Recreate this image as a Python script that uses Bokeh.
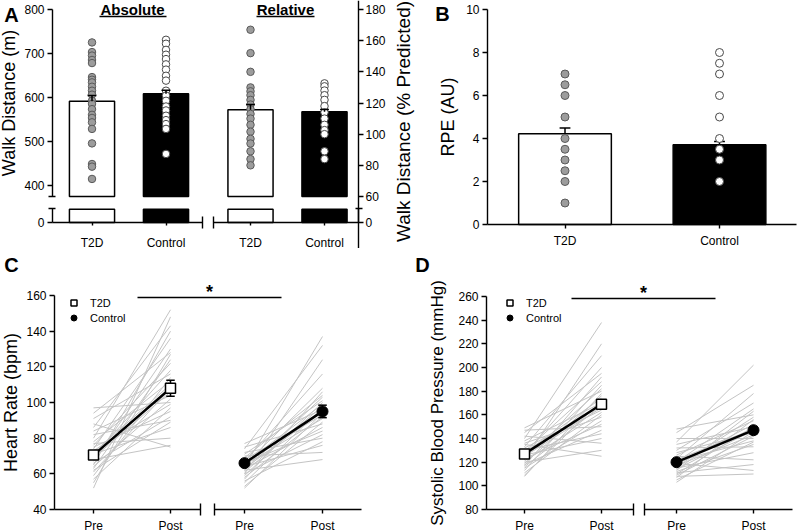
import math
from bokeh.plotting import figure
from bokeh.models import Range1d, FixedTicker, Label, Legend, LegendItem, LinearAxis
from bokeh.layouts import row, column
from bokeh.embed import file_html
from bokeh.resources import INLINE
from bokeh.core.properties import value

# ---------------- data ----------------
groups = ["T2D", "Control"]
walk_abs_mean = [591, 608]
walk_abs_sem = [13, 8]
walk_abs_t2d = [725, 703, 695, 685, 678, 646, 640, 634, 624, 615, 606, 592, 585, 573, 560, 553, 543, 528, 495, 448, 442, 414]
walk_abs_ctrl = [731, 722, 708, 697, 687, 675, 663, 649, 638, 615, 604, 592, 579, 570, 558, 548, 539, 528, 471]
walk_rel_mean = [115.6, 114.4]
walk_rel_sem = [3.4, 1.5]
walk_rel_t2d = [167, 152, 140, 130, 127.5, 125, 122, 119, 116, 113, 110, 106, 101.6, 97, 94, 89, 84, 80]
walk_rel_ctrl = [132.6, 130.7, 128, 125, 122, 118, 114, 110, 106, 102.6, 100, 89, 84]
rpe_mean = [4.22, 3.71]
rpe_sem = [0.27, 0.15]
rpe_t2d = [7, 6.5, 6, 5, 4, 3.5, 3, 2.5, 2, 1]
rpe_ctrl = [8, 7.5, 7, 6, 5, 4, 3.5, 3, 2]

times = ["Pre", "Post"]
hr_t2d_pre = [97, 94, 91, 88, 86, 84, 82, 80, 78, 77, 76, 75, 74, 73, 72, 71, 70, 69, 68, 67, 66, 65, 64, 63, 62, 61, 59, 57, 55, 52]
hr_t2d_post = [100, 128, 116, 75, 143, 104, 90, 152, 112, 80, 122, 95, 136, 99, 110, 86, 118, 106, 76, 130, 92, 140, 102, 124, 89, 108, 114, 97, 127, 148]
hr_ctrl_pre = [77, 75, 74, 72, 71, 70, 69, 68, 67, 66, 66, 65, 65, 64, 64, 63, 63, 62, 62, 61, 60, 60, 59, 58, 57, 56, 55, 53, 52]
hr_ctrl_post = [96, 88, 132, 80, 101, 72, 104, 93, 116, 84, 99, 108, 91, 76, 137, 95, 86, 103, 68, 98, 124, 82, 100, 92, 106, 78, 97, 89, 94]
hr_t2d_mean = [70.5, 108]
hr_t2d_sem = [1.5, 4.5]
hr_ctrl_mean = [66, 95]
hr_ctrl_sem = [1.0, 3.5]

sbp_t2d_pre = [149, 147, 145, 142, 140, 138, 136, 135, 133, 132, 130, 129, 128, 127, 126, 125, 124, 123, 122, 121, 120, 119, 118, 117, 116, 115, 113, 111, 109, 108]
sbp_t2d_post = [180, 150, 195, 136, 238, 170, 158, 125, 210, 164, 144, 188, 174, 200, 140, 166, 182, 152, 220, 162, 130, 176, 147, 192, 168, 155, 185, 160, 172, 178]
sbp_ctrl_pre = [148, 145, 140, 137, 135, 132, 130, 128, 126, 125, 123, 122, 121, 120, 119, 118, 117, 116, 115, 114, 113, 112, 111, 110, 109, 108, 107, 105, 103]
sbp_ctrl_post = [160, 185, 140, 202, 150, 133, 170, 145, 155, 122, 178, 148, 138, 165, 113, 152, 143, 158, 128, 147, 163, 135, 118, 150, 142, 110, 156, 137, 146]
sbp_t2d_mean = [127, 169]
sbp_t2d_sem = [2.0, 3.5]
sbp_ctrl_mean = [120, 147]
sbp_ctrl_sem = [1.5, 3.0]

walk_abs_ticks = [400, 500, 600, 700, 800]
walk_rel_ticks = [60, 80, 100, 120, 140, 160, 180]
rpe_ticks = [0, 2, 4, 6, 8, 10]
hr_ticks = [40, 60, 80, 100, 120, 140, 160]
sbp_ticks = [80, 100, 120, 140, 160, 180, 200, 220, 240, 260]

# ---------------- styling / geometry helpers ----------------
FONT = "Liberation Sans"
T2D_DOT, T2D_EDGE = "#9c9c9c", "#5a5a5a"
CTL_DOT, CTL_EDGE = "white", "#4a4a4a"
IND_LINE = "#c4c4c4"


class Lin:
    """linear map from reference-pixel position to data value"""

    def __init__(self, p0, v0, p1, v1):
        self.p0, self.v0, self.p1, self.v1 = p0, v0, p1, v1

    def __call__(self, px):
        return self.v0 + (px - self.p0) * (self.v1 - self.v0) / (self.p1 - self.p0)

    def rng(self, c0, c1):
        a, b = self(c0), self(c1)
        return Range1d(min(a, b), max(a, b))


def panel_fig(canvas, xmap, ymap):
    cx0, cy0, cx1, cy1 = canvas
    p = figure(width=cx1 - cx0, height=cy1 - cy0,
               x_range=xmap.rng(cx0, cx1), y_range=ymap.rng(cy0, cy1),
               x_axis_location=None, y_axis_location=None, title=None,
               output_backend="svg", toolbar_location=None,
               min_border_left=0, min_border_right=0, min_border_top=0, min_border_bottom=0)
    p.outline_line_color = None
    p.grid.visible = False
    p.background_fill_color = "white"
    p.border_fill_color = "white"
    return p


def add_axis(p, side, loc, ticks, minor=(), overrides=None, bounds=None, size="12px",
             tick_out=5, standoff=3, label=None, label_size="18px", label_standoff=4,
             minor_in=0, minor_out=0, **kw):
    ax = LinearAxis(fixed_location=loc, ticker=FixedTicker(ticks=list(ticks), minor_ticks=list(minor)), **kw)
    if overrides:
        ax.major_label_overrides = overrides
    if bounds is not None:
        ax.bounds = bounds
    ax.axis_line_color = "black"
    ax.axis_line_width = 1.4
    ax.major_tick_line_color = "black"
    ax.major_tick_line_width = 1.4
    ax.minor_tick_line_color = "black"
    ax.minor_tick_line_width = 1.4
    ax.major_tick_in = 0
    ax.major_tick_out = tick_out
    ax.minor_tick_in = minor_in
    ax.minor_tick_out = minor_out
    ax.major_label_text_font = FONT
    ax.major_label_text_font_size = size
    ax.major_label_text_color = "black"
    ax.major_label_standoff = standoff
    if label:
        ax.axis_label = label
        ax.axis_label_text_font = FONT
        ax.axis_label_text_font_style = "normal"
        ax.axis_label_text_font_size = label_size
        ax.axis_label_text_color = "black"
        ax.axis_label_standoff = label_standoff
    p.add_layout(ax, side)
    return ax


def text_label(p, x, y, text, size, bold=False, angle=0.0):
    p.add_layout(Label(x=x, y=y, text=text, text_font=FONT, text_font_size=size,
                       text_font_style="bold" if bold else "normal", text_color="black",
                       text_align="center", text_baseline="middle", angle=angle))


def err_up(p, xs, means, sems, cap, **kw):
    tops = [m + s for m, s in zip(means, sems)]
    p.segment(x0=xs, y0=means, x1=xs, y1=tops, line_color="black", line_width=1.5, **kw)
    p.segment(x0=[x - cap for x in xs], y0=tops, x1=[x + cap for x in xs], y1=tops,
              line_color="black", line_width=1.5, **kw)


def err_both(p, xs, means, sems, cap, **kw):
    lo = [m - s for m, s in zip(means, sems)]
    hi = [m + s for m, s in zip(means, sems)]
    p.segment(x0=xs, y0=lo, x1=xs, y1=hi, line_color="black", line_width=1.5, **kw)
    for ys in (lo, hi):
        p.segment(x0=[x - cap for x in xs], y0=ys, x1=[x + cap for x in xs], y1=ys,
                  line_color="black", line_width=1.5, **kw)


xpos = [1, 2]
tick_names = {1: groups[0], 2: groups[1]}
BAR_FILL = ["white", "black"]

# ---------------- Panel A : walk distance (broken axes) ----------------
A_CANVAS = (0, 0, 416, 248)
ax_abs = Lin(91.5, 1, 165.5, 2)      # default x  (absolute bars)
ax_rel = Lin(250, 1, 324, 2)         # "rel" x    (relative bars)
ay_abs = Lin(9, 800, 196, 374)       # default y  (upper part, metres)
ay_rel = Lin(9, 180, 196, 60)        # "rel" y    (upper part, % predicted)
ay_low = Lin(222, 0, 208, 40)        # "low" y    (lower part below the break)
ABS_BREAK, REL_BASE, LOW_TOP = 374, 60, 38

pA = panel_fig(A_CANVAS, ax_abs, ay_abs)
pA.extra_x_ranges = {"rel": ax_rel.rng(A_CANVAS[0], A_CANVAS[2])}
pA.extra_y_ranges = {"rel": ay_rel.rng(A_CANVAS[1], A_CANVAS[3]), "low": ay_low.rng(A_CANVAS[1], A_CANVAS[3])}

# bars (upper and lower parts of the broken axis)
pA.vbar(x=xpos, width=0.61, bottom=ABS_BREAK, top=walk_abs_mean, fill_color=BAR_FILL,
        line_color="black", line_width=1.5)
pA.vbar(x=xpos, width=0.61, bottom=REL_BASE, top=walk_rel_mean, fill_color=BAR_FILL,
        line_color="black", line_width=1.5, x_range_name="rel", y_range_name="rel")
pA.vbar(x=xpos, width=0.61, bottom=0, top=[min(m, LOW_TOP) for m in walk_abs_mean], fill_color=BAR_FILL,
        line_color="black", line_width=1.5, y_range_name="low")
pA.vbar(x=xpos, width=0.61, bottom=0, top=[min(m, LOW_TOP) for m in walk_rel_mean], fill_color=BAR_FILL,
        line_color="black", line_width=1.5, x_range_name="rel", y_range_name="low")
# individual values
pA.scatter(x=[1] * len(walk_abs_t2d), y=walk_abs_t2d, size=7.5, fill_color=T2D_DOT, line_color=T2D_EDGE)
pA.scatter(x=[2] * len(walk_abs_ctrl), y=walk_abs_ctrl, size=7.5, fill_color=CTL_DOT, line_color=CTL_EDGE)
pA.scatter(x=[1] * len(walk_rel_t2d), y=walk_rel_t2d, size=7.5, fill_color=T2D_DOT, line_color=T2D_EDGE,
           x_range_name="rel", y_range_name="rel")
pA.scatter(x=[2] * len(walk_rel_ctrl), y=walk_rel_ctrl, size=7.5, fill_color=CTL_DOT, line_color=CTL_EDGE,
           x_range_name="rel", y_range_name="rel")
err_up(pA, xpos, walk_abs_mean, walk_abs_sem, 0.06)
err_up(pA, xpos, walk_rel_mean, walk_rel_sem, 0.06, x_range_name="rel", y_range_name="rel")

# axes
add_axis(pA, "left", ax_abs(52), walk_abs_ticks, minor=[ABS_BREAK], bounds=(ABS_BREAK, 800),
         label="Walk Distance (m)", label_size="18px", label_standoff=2, minor_in=3, minor_out=4)
add_axis(pA, "left", ax_abs(52), [0], minor=[LOW_TOP + 2], bounds=(0, LOW_TOP + 2),
         minor_in=3, minor_out=4, y_range_name="low")
add_axis(pA, "right", ax_abs(358), walk_rel_ticks, standoff=2, y_range_name="rel")
add_axis(pA, "right", ax_abs(358), [0], minor=[LOW_TOP + 2], bounds=(0, LOW_TOP + 2), standoff=2,
         minor_in=3, minor_out=4, y_range_name="low")
add_axis(pA, "below", ay_abs(222), xpos, minor=[ax_abs(202)], overrides=tick_names,
         bounds=(ax_abs(52), ax_abs(202) + 0.002), tick_out=3, standoff=7, minor_in=6, minor_out=6)
add_axis(pA, "below", ay_abs(222), xpos, minor=[ax_rel(213)], overrides=tick_names,
         bounds=(ax_rel(213) - 0.002, ax_rel(358)), tick_out=3, standoff=7, minor_in=6, minor_out=6,
         x_range_name="rel")

# titles / labels
text_label(pA, ax_abs(132), ay_abs(8.5), "Absolute", "15px", bold=True)
text_label(pA, ax_abs(285), ay_abs(8.5), "Relative", "15px", bold=True)
pA.segment(x0=[ax_abs(99), ax_abs(256)], y0=[ay_abs(16)] * 2, x1=[ax_abs(166), ax_abs(314)],
           y1=[ay_abs(16)] * 2, line_color="black", line_width=1.5)
text_label(pA, ax_abs(11), ay_abs(14), "A", "20px", bold=True)
text_label(pA, ax_abs(403), ay_abs(121), "Walk Distance (% Predicted)", "19px", angle=math.pi / 2)

# ---------------- Panel B : RPE ----------------
B_CANVAS = (416, 0, 798, 248)
bx = Lin(564.5, 1, 719, 2)
by = Lin(9, 10, 224, 0)
pB = panel_fig(B_CANVAS, bx, by)
pB.vbar(x=xpos, width=0.6, bottom=0, top=rpe_mean, fill_color=BAR_FILL, line_color="black", line_width=1.5)
err_up(pB, xpos, rpe_mean, rpe_sem, 0.035)
pB.scatter(x=[1] * len(rpe_t2d), y=rpe_t2d, size=8, fill_color=T2D_DOT, line_color=T2D_EDGE)
pB.scatter(x=[2] * len(rpe_ctrl), y=rpe_ctrl, size=8, fill_color=CTL_DOT, line_color=CTL_EDGE)
add_axis(pB, "left", bx(487), rpe_ticks, bounds=(0, 10), label="RPE (AU)", label_size="18px",
         label_standoff=5)
add_axis(pB, "below", 0, xpos, overrides=tick_names, bounds=(bx(487), bx(796)), tick_out=4, standoff=5)
text_label(pB, bx(442), by(13), "B", "20px", bold=True)


# ---------------- Panels C & D : paired pre/post ----------------
def paired_panel(canvas, px_t2d, px_ctrl, y_anchor, yticks, ylabel, ylabel_size, ylabel_standoff,
                 axis_px, brk_px, t2d_pre, t2d_post, ctrl_pre, ctrl_post,
                 t2d_mean, t2d_sem, ctrl_mean, ctrl_sem, letter, letter_px, sig_px, sig_py,
                 star_px, legend_px):
    cx0, cy0, cx1, cy1 = canvas
    xt = Lin(px_t2d[0], 0, px_t2d[1], 1)
    xc = Lin(px_ctrl[0], 0, px_ctrl[1], 1)
    yy = Lin(*y_anchor)
    p = panel_fig(canvas, xt, yy)
    p.extra_x_ranges = {"ctrl": xc.rng(cx0, cx1)}
    xs = [0, 1]
    over = {0: times[0], 1: times[1]}
    ymin = min(y_anchor[1], y_anchor[3])
    ymax = max(y_anchor[1], y_anchor[3])

    # individual participants
    p.multi_line(xs=[xs] * len(t2d_pre), ys=[[a, b] for a, b in zip(t2d_pre, t2d_post)],
                 line_color=IND_LINE, line_width=1)
    p.multi_line(xs=[xs] * len(ctrl_pre), ys=[[a, b] for a, b in zip(ctrl_pre, ctrl_post)],
                 line_color=IND_LINE, line_width=1, x_range_name="ctrl")
    # group means
    p.line(x=xs, y=t2d_mean, line_color="black", line_width=2.5)
    p.line(x=xs, y=ctrl_mean, line_color="black", line_width=2.5, x_range_name="ctrl")
    err_both(p, xs, t2d_mean, t2d_sem, 0.055)
    err_both(p, xs, ctrl_mean, ctrl_sem, 0.055, x_range_name="ctrl")
    sq = p.scatter(x=xs, y=t2d_mean, marker="square", size=10, fill_color="white",
                   line_color="black", line_width=1.5)
    ci = p.scatter(x=xs, y=ctrl_mean, marker="circle", size=11, fill_color="black", line_color="black",
                   x_range_name="ctrl")

    # axes (with the break in the x axis)
    add_axis(p, "left", xt(axis_px[0]), yticks, bounds=(ymin, ymax), label=ylabel,
             label_size=ylabel_size, label_standoff=ylabel_standoff)
    add_axis(p, "below", ymin, xs, minor=[xt(brk_px[0])], overrides=over,
             bounds=(xt(axis_px[0]), xt(brk_px[0]) + 0.002), tick_out=4, standoff=3,
             minor_in=6, minor_out=6)
    add_axis(p, "below", ymin, xs, minor=[xc(brk_px[1])], overrides=over,
             bounds=(xc(brk_px[1]) - 0.002, xc(axis_px[1])), tick_out=4, standoff=3,
             minor_in=6, minor_out=6, x_range_name="ctrl")

    # significance bar and star
    p.segment(x0=[xt(sig_px[0])], y0=[yy(sig_py)], x1=[xt(sig_px[1])], y1=[yy(sig_py)],
              line_color="black", line_width=1.5)
    text_label(p, xt(star_px[0]), yy(star_px[1]), "*", "18px", bold=True)
    text_label(p, xt(letter_px[0]), yy(letter_px[1]), letter, "20px", bold=True)

    # legend
    gh = 15
    left_px = legend_px[0] - gh / 2
    bottom_px = legend_px[1] - gh / 2 + 2 * gh
    leg = Legend(items=[LegendItem(label=value("T2D"), renderers=[sq]),
                        LegendItem(label=value("Control"), renderers=[ci])],
                 location=(int(round(left_px - cx0)), int(round(cy1 - bottom_px))),
                 orientation="vertical", border_line_color=None, background_fill_alpha=0,
                 padding=0, margin=0, spacing=0, glyph_width=gh, glyph_height=gh, label_height=gh,
                 label_standoff=9, label_text_font=FONT, label_text_font_size="11px",
                 label_text_color="black", label_text_baseline="middle")
    p.add_layout(leg)
    return p


pC = paired_panel((0, 248, 398, 531), (93, 170), (244, 322), (295, 160, 509, 40), hr_ticks,
                  "Heart Rate (bpm)", "18px", 2, (54, 361), (200, 214),
                  hr_t2d_pre, hr_t2d_post, hr_ctrl_pre, hr_ctrl_post,
                  hr_t2d_mean, hr_t2d_sem, hr_ctrl_mean, hr_ctrl_sem,
                  "C", (11, 264), (137, 281), 297, (209, 291), (73, 303))

pD = paired_panel((398, 248, 798, 531), (524, 601), (676, 753), (296, 260, 509, 80), sbp_ticks,
                  "Systolic Blood Pressure (mmHg)", "17px", 8, (486, 792), (633, 644),
                  sbp_t2d_pre, sbp_t2d_post, sbp_ctrl_pre, sbp_ctrl_post,
                  sbp_t2d_mean, sbp_t2d_sem, sbp_ctrl_mean, sbp_ctrl_sem,
                  "D", (422, 264), (571, 715), 298, (643, 292), (510, 303))

layout = column(row(pA, pB), row(pC, pD))

open("out.html", "w").write(file_html(layout, INLINE))
